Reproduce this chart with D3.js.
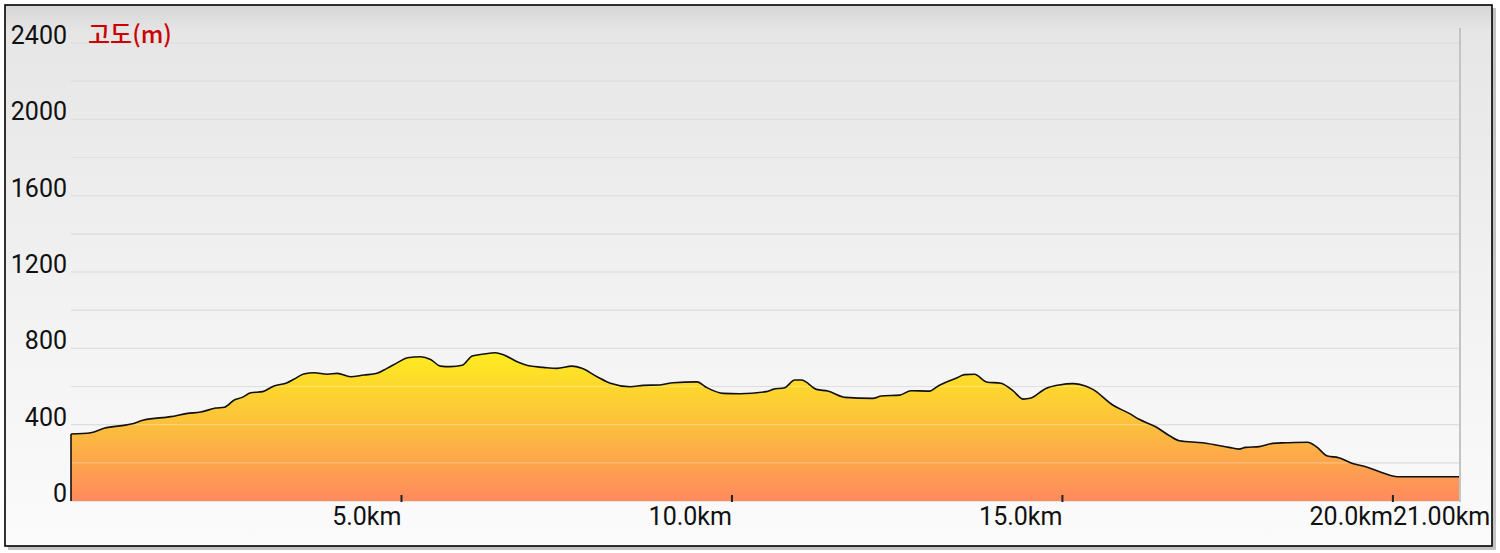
<!DOCTYPE html>
<html><head><meta charset="utf-8">
<script src="https://cdn.jsdelivr.net/npm/d3@7"></script>
<style>html,body{margin:0;padding:0;background:#fff;}svg{display:block;}</style>
</head><body>
<svg id="c" width="1500" height="553"></svg>
<script>
const distKm = [0,0.30,0.50,0.91,1.10,1.51,1.76,1.96,2.19,2.32,2.47,2.59,2.72,2.90,3.07,3.27,3.37,3.52,3.68,3.88,4.03,4.23,4.43,4.63,4.78,4.94,5.09,5.29,5.44,5.59,5.74,5.92,6.07,6.24,6.42,6.55,6.75,6.95,7.15,7.35,7.58,7.73,7.96,8.16,8.46,8.66,8.91,9.11,9.47,9.62,9.87,10.12,10.52,10.62,10.80,10.95,11.05,11.28,11.45,11.71,12.13,12.26,12.54,12.71,12.99,13.12,13.39,13.52,13.67,13.85,14.07,14.25,14.41,14.51,14.75,14.95,15.16,15.26,15.46,15.76,16.01,16.16,16.41,16.62,16.77,17.12,17.52,17.67,17.77,17.98,18.18,18.38,18.71,18.84,19.01,19.18,19.39,19.59,19.84,20.07,21.0];
const elevM = [351,358,381,403,424,442,459,466,487,491,529,543,567,573,603,620,638,665,672,664,669,651,660,669,695,725,751,756,742,707,704,711,760,770,777,765,730,707,700,695,707,695,651,617,599,606,608,620,624,594,564,562,573,585,594,634,634,585,576,543,538,550,555,578,576,603,643,662,664,624,617,578,534,538,590,608,615,611,585,503,459,428,389,342,316,305,281,272,281,285,302,305,308,285,236,227,197,180,148,127,127];
const yTicks = [0,400,800,1200,1600,2000,2400];
const yGrid = [0,200,400,600,800,1000,1200,1400,1600,1800,2000,2200,2400];
const xTicks = [5,10,15,20,21];
const xTickLabels = ["5.0km","10.0km","15.0km","20.0km","21.00km"];
const title = "고도(m)";

const svg = d3.select("#c");
const defs = svg.append("defs");
const L = 71, R = 1459, T = 43, B = 501;
const x = d3.scaleLinear().domain([0,21]).range([L,R]);
const y = d3.scaleLinear().domain([0,2400]).range([B,T]);

// shadow + frame
svg.append("rect").attr("x",8).attr("y",8).attr("width",1488).attr("height",542).attr("fill","#9a9a9a").attr("opacity",0.6);
const bg = defs.append("linearGradient").attr("id","bg").attr("x1",0).attr("x2",0).attr("y1",0).attr("y2",1);
bg.append("stop").attr("offset","0").attr("stop-color","#d6d6d6");
bg.append("stop").attr("offset","0.05").attr("stop-color","#e6e6e6");
bg.append("stop").attr("offset","0.6").attr("stop-color","#f3f3f3");
bg.append("stop").attr("offset","1").attr("stop-color","#fbfbfb");
svg.append("rect").attr("x",5).attr("y",5).attr("width",1487).attr("height",541).attr("fill","url(#bg)").attr("stroke","#000").attr("stroke-width",1.6);

// grid below
svg.append("g").selectAll("line").data(yGrid).join("line")
  .attr("x1",L).attr("x2",R).attr("y1",d=>y(d)).attr("y2",d=>y(d))
  .attr("stroke","#d2d2d2").attr("stroke-width",1.2);

// right border line
svg.append("line").attr("x1",R+1).attr("x2",R+1).attr("y1",28).attr("y2",B+1).attr("stroke","#c4c4c4").attr("stroke-width",2);

// area
const ag = defs.append("linearGradient").attr("id","ag").attr("gradientUnits","userSpaceOnUse")
  .attr("x1",0).attr("x2",0).attr("y1",y(790)).attr("y2",y(0));
ag.append("stop").attr("offset","0").attr("stop-color","#ffee1e");
ag.append("stop").attr("offset","0.45").attr("stop-color","#fcc43a");
ag.append("stop").attr("offset","0.75").attr("stop-color","#fda44c");
ag.append("stop").attr("offset","1").attr("stop-color","#ff8a5e");
const pts = distKm.map((d,i)=>[d,elevM[i]]);
const area = d3.area().curve(d3.curveMonotoneX).x(d=>x(d[0])).y0(y(0)).y1(d=>y(d[1]));
svg.append("path").datum(pts).attr("d",area).attr("fill","url(#ag)");

// grid over area (light)
svg.append("g").selectAll("line").data(yGrid.filter(d=>d>0)).join("line")
  .attr("x1",L).attr("x2",R).attr("y1",d=>y(d)).attr("y2",d=>y(d))
  .attr("stroke","#ffffff").attr("stroke-opacity",0.3).attr("stroke-width",1.2);

// outline
const line = d3.line().curve(d3.curveMonotoneX).x(d=>x(d[0])).y(d=>y(d[1]));
svg.append("line").attr("x1",x(0)).attr("x2",x(0)).attr("y1",y(0)).attr("y2",y(elevM[0])).attr("stroke","#111").attr("stroke-width",1.6);
svg.append("path").datum(pts).attr("d",line).attr("fill","none").attr("stroke","#111").attr("stroke-width",1.6).attr("stroke-linejoin","round");

// x ticks
svg.append("g").selectAll("line").data(xTicks.slice(0,4)).join("line")
  .attr("x1",d=>x(d)).attr("x2",d=>x(d)).attr("y1",B-6).attr("y2",B+1)
  .attr("stroke","#222").attr("stroke-width",2);

const font = "Roboto, 'Noto Sans', sans-serif";
// y labels
svg.append("g").selectAll("text").data(yTicks).join("text")
  .attr("x",67).attr("y",d=>y(d)+1).attr("text-anchor","end")
  .attr("font-family",font).attr("font-size",25).attr("fill","#111").text(d=>d);
// x labels
svg.append("g").selectAll("text").data(xTicks).join("text")
  .attr("x",(d,i)=> i<4 ? x(d) : x(xTicks[3]))
  .attr("y",525).attr("text-anchor",(d,i)=> i<4 ? "end" : "start")
  .attr("font-family",font).attr("font-size",25).attr("fill","#111").text((d,i)=>xTickLabels[i]);
// title
svg.append("text").attr("x",88).attr("y",43).attr("font-family","'Noto Sans CJK KR', sans-serif")
  .attr("font-size",24).attr("font-weight",500).attr("fill","#cc0000").text(title);
</script>
</body></html>
